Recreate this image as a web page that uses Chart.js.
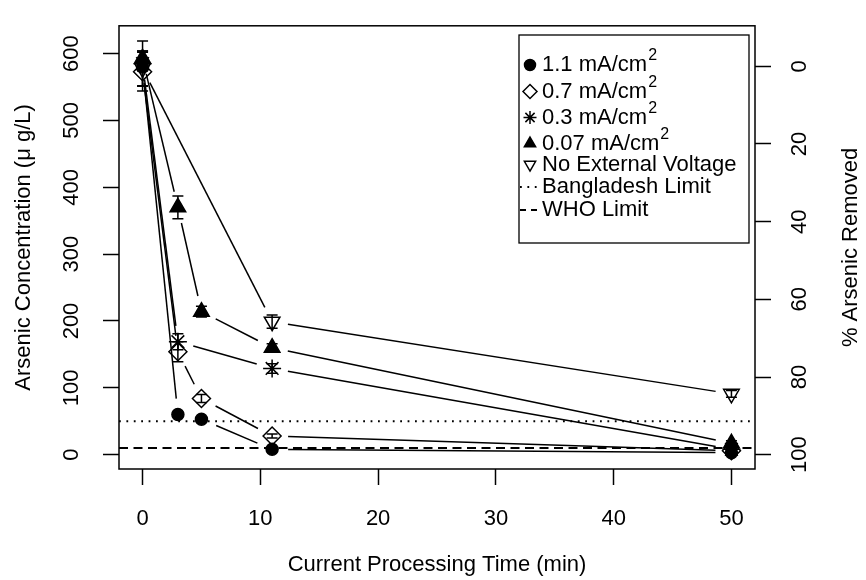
<!DOCTYPE html>
<html>
<head>
<meta charset="utf-8">
<script src="https://cdn.jsdelivr.net/npm/chart.js@4/dist/chart.umd.min.js"></script>
<style>
  html, body { margin: 0; padding: 0; background: #fff; }
  #wrap { width: 866px; height: 580px; }
</style>
</head>
<body>
<div id="wrap"><canvas id="arsenicChart"></canvas></div>
<script>
// time points (min)
var time5 = [0, 3, 5, 11, 50]
var time4 = [0, 3, 11, 50]
var time3 = [0, 11, 50]

// arsenic concentration (ug/L) and error
var conc11 = [580, 60, 53, 8, 3]
var err11 = [6, 3, 3, 1, 1]
var conc07 = [573, 154, 84, 28, 6]
var err07 = [29, 15, 6, 3, 1]
var conc03 = [585, 169, 129, 8]
var err03 = [34, 12, 7, 1]
var conc007 = [593, 370, 214, 160, 17]
var err007 = [11, 17, 8, 6, 4]
var concNone = [578, 199, 91]
var errNone = [26, 10, 5]

// limits and axes
var bangladeshLimit = 50
var whoLimit = 10
var initialConc = 581
var xTicks = [0, 10, 20, 30, 40, 50]
var yTicks = [0, 100, 200, 300, 400, 500, 600]
var pctTicks = [0, 20, 40, 60, 80, 100]
var xMin = -2, xMax = 52
var yMin = -21.4, yMax = 641.6

Chart.defaults.font.family = '"Liberation Sans", Arial, Helvetica, sans-serif'
Chart.defaults.font.size = 22
Chart.defaults.color = '#000'

var GAP = 16
// R type="b": leave a gap round each point
function gapDash(c) {
  var dx = c.p1.x - c.p0.x, dy = c.p1.y - c.p0.y
  var len = Math.sqrt(dx * dx + dy * dy)
  if (len <= 2 * GAP) return [0, len + 10]
  return [0, GAP, len - 2 * GAP, GAP + 10]
}

function pts(xs, ys) {
  return xs.map(function (x, i) { return { x: x, y: ys[i] } })
}

function series(label, xs, ys, err, style, filled, radius, rot) {
  return {
    label: label,
    data: pts(xs, ys),
    err: err,
    showLine: true,
    tension: 0,
    fill: false,
    borderColor: '#000',
    borderWidth: 1.5,
    pointStyle: style,
    pointRotation: rot || 0,
    pointRadius: radius,
    pointHoverRadius: radius,
    pointBackgroundColor: filled ? '#000' : 'rgba(0,0,0,0)',
    pointBorderColor: '#000',
    pointBorderWidth: 1.5,
    segment: { borderDash: gapDash }
  }
}

var datasets = [
  series('1.1 mA/cm2', time5, conc11, err11, 'circle', true, 6),
  series('0.7 mA/cm2', time5, conc07, err07, 'rectRot', false, 9),
  series('0.3 mA/cm2', time4, conc03, err03, 'star', false, 9),
  series('0.07 mA/cm2', time5, conc007, err007, 'triangle', true, 9),
  series('No External Voltage', time3, concNone, errNone, 'triangle', false, 9, 180)
]

// limit lines, under the data
var limitLines = {
  id: 'limitLines',
  beforeDatasetsDraw: function (chart) {
    var ctx = chart.ctx, a = chart.chartArea, ys = chart.scales.y
    ctx.save()
    ctx.strokeStyle = '#000'
    ctx.lineWidth = 1.8
    ;[[bangladeshLimit, [1.8, 5.6]], [whoLimit, [9, 5.5]]].forEach(function (l) {
      var py = ys.getPixelForValue(l[0])
      ctx.setLineDash(l[1])
      ctx.beginPath()
      ctx.moveTo(a.left, py)
      ctx.lineTo(a.right, py)
      ctx.stroke()
    })
    ctx.restore()
  }
}

var errorBars = {
  id: 'errorBars',
  afterDatasetsDraw: function (chart) {
    var ctx = chart.ctx, xs = chart.scales.x, ys = chart.scales.y
    ctx.save()
    ctx.strokeStyle = '#000'
    ctx.lineWidth = 1.5
    chart.data.datasets.forEach(function (ds) {
      ds.data.forEach(function (p, i) {
        var px = xs.getPixelForValue(p.x)
        var top = ys.getPixelForValue(p.y + ds.err[i])
        var bot = ys.getPixelForValue(p.y - ds.err[i])
        ctx.beginPath()
        ctx.moveTo(px, top); ctx.lineTo(px, bot)
        ctx.moveTo(px - 5.5, top); ctx.lineTo(px + 5.5, top)
        ctx.moveTo(px - 5.5, bot); ctx.lineTo(px + 5.5, bot)
        ctx.stroke()
      })
    })
    ctx.restore()
  }
}

function marker(ctx, style, x, y, r, filled) {
  ctx.beginPath()
  if (style === 'circle') {
    ctx.arc(x, y, r, 0, Math.PI * 2)
  } else if (style === 'diamond') {
    ctx.moveTo(x - r, y); ctx.lineTo(x, y - r); ctx.lineTo(x + r, y); ctx.lineTo(x, y + r); ctx.closePath()
  } else if (style === 'star') {
    var d = r * Math.SQRT1_2
    ctx.moveTo(x - r, y); ctx.lineTo(x + r, y)
    ctx.moveTo(x, y - r); ctx.lineTo(x, y + r)
    ctx.moveTo(x - d, y - d); ctx.lineTo(x + d, y + d)
    ctx.moveTo(x - d, y + d); ctx.lineTo(x + d, y - d)
  } else {
    var s = style === 'down' ? -1 : 1
    var h = r * Math.sqrt(3) / 2
    ctx.moveTo(x, y - s * r); ctx.lineTo(x + h, y + s * r / 2); ctx.lineTo(x - h, y + s * r / 2); ctx.closePath()
  }
  if (filled) { ctx.fillStyle = '#000'; ctx.fill() }
  ctx.stroke()
}

var legendItems = [
  { text: '1.1 mA/cm', sup: '2', mark: 'circle', filled: true, r: 5.5 },
  { text: '0.7 mA/cm', sup: '2', mark: 'diamond', r: 7 },
  { text: '0.3 mA/cm', sup: '2', mark: 'star', r: 6.5 },
  { text: '0.07 mA/cm', sup: '2', mark: 'up', filled: true, r: 6.5 },
  { text: 'No External Voltage', mark: 'down', r: 6.5 },
  { text: 'Bangladesh Limit', dash: [1.8, 5.6] },
  { text: 'WHO Limit', dash: [6, 5] }
]
var legendRows = [65, 91.5, 117.5, 143.5, 164.5, 187, 210]

var frame = {
  id: 'frame',
  afterDraw: function (chart) {
    var ctx = chart.ctx, a = chart.chartArea
    ctx.save()
    ctx.strokeStyle = '#000'
    ctx.lineWidth = 1.5
    ctx.strokeRect(a.left, a.top, a.right - a.left, a.bottom - a.top)

    // right axis title
    ctx.save()
    ctx.translate(851, (a.top + a.bottom) / 2)
    ctx.rotate(-Math.PI / 2)
    ctx.fillStyle = '#000'
    ctx.font = '22px "Liberation Sans", Arial, sans-serif'
    ctx.textAlign = 'center'
    ctx.textBaseline = 'middle'
    ctx.fillText('% Arsenic Removed', 0, 0)
    ctx.restore()

    // legend
    var lx = 519, ly = 35, lw = 230, lh = 208
    ctx.fillStyle = '#fff'
    ctx.fillRect(lx, ly, lw, lh)
    ctx.lineWidth = 1.3
    ctx.strokeRect(lx, ly, lw, lh)
    ctx.lineWidth = 1.5
    legendItems.forEach(function (it, i) {
      var y = legendRows[i]
      ctx.setLineDash([])
      if (it.mark) {
        marker(ctx, it.mark, 530, y, it.r, it.filled)
      } else {
        ctx.lineWidth = 1.8
        ctx.setLineDash(it.dash)
        ctx.beginPath(); ctx.moveTo(520, y); ctx.lineTo(541, y); ctx.stroke()
        ctx.setLineDash([])
        ctx.lineWidth = 1.5
      }
      ctx.fillStyle = '#000'
      ctx.font = '22px "Liberation Sans", Arial, sans-serif'
      ctx.textAlign = 'left'
      ctx.textBaseline = 'middle'
      ctx.fillText(it.text, 542, y)
      if (it.sup) {
        var w = ctx.measureText(it.text).width
        ctx.font = '16px "Liberation Sans", Arial, sans-serif'
        ctx.fillText(it.sup, 543 + w, y - 9)
      }
    })
    ctx.restore()
  }
}

function tickGrid() {
  return { display: true, drawOnChartArea: false, drawTicks: true, tickLength: 16, tickWidth: 1.5, tickColor: '#000', color: '#000' }
}

new Chart(document.getElementById('arsenicChart'), {
  type: 'scatter',
  data: { datasets: datasets },
  options: {
    responsive: true,
    maintainAspectRatio: false,
    animation: false,
    layout: { padding: { top: 22, left: 0, right: 0, bottom: 0 } },
    plugins: { legend: { display: false }, tooltip: { enabled: false } },
    scales: {
      x: {
        type: 'linear', min: xMin, max: xMax,
        afterBuildTicks: function (s) { s.ticks = xTicks.map(function (v) { return { value: v } }) },
        afterFit: function (s) { s.height = 111 },
        grid: tickGrid(),
        border: { display: false },
        ticks: { autoSkip: false, maxRotation: 0, padding: 21 },
        title: { display: true, text: 'Current Processing Time (min)', padding: { top: 0, bottom: 2 } }
      },
      y: {
        type: 'linear', position: 'left', min: yMin, max: yMax,
        afterBuildTicks: function (s) { s.ticks = yTicks.map(function (v) { return { value: v } }) },
        afterFit: function (s) { s.width = 119 },
        grid: tickGrid(),
        border: { display: false },
        ticks: { autoSkip: false, minRotation: 90, maxRotation: 90, crossAlign: 'center', padding: 12.6 },
        title: { display: true, text: 'Arsenic Concentration (\u03bc g/L)', padding: { top: 11, bottom: 0 } }
      },
      y2: {
        type: 'linear', position: 'right', reverse: true,
        min: 100 * (1 - yMax / initialConc), max: 100 * (1 - yMin / initialConc),
        afterBuildTicks: function (s) { s.ticks = pctTicks.map(function (v) { return { value: v } }) },
        afterFit: function (s) { s.width = 111 },
        grid: tickGrid(),
        border: { display: false },
        ticks: { autoSkip: false, minRotation: 90, maxRotation: 90, crossAlign: 'center', padding: 10.6 }
      }
    }
  },
  plugins: [limitLines, errorBars, frame]
})
</script>
</body>
</html>
